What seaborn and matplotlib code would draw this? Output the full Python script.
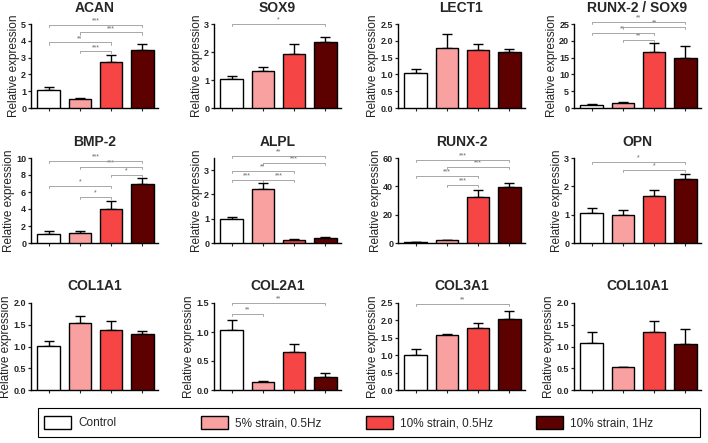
import numpy as np
import pandas as pd
import seaborn as sns
import matplotlib.pyplot as plt
from matplotlib.patches import Patch, Rectangle
from matplotlib.ticker import MultipleLocator

# ---- data ----
groups = ['Control', '5% strain, 0.5Hz', '10% strain, 0.5Hz', '10% strain, 1Hz']
colors = ['#FFFFFF', '#F9A0A0', '#F54545', '#5C0000']

genes = ['ACAN', 'SOX9', 'LECT1', 'RUNX-2 / SOX9',
         'BMP-2', 'ALPL', 'RUNX-2', 'OPN',
         'COL1A1', 'COL2A1', 'COL3A1', 'COL10A1']

means = [[1.05, 0.52, 2.75, 3.48],
         [1.03, 1.33, 1.93, 2.37],
         [1.03, 1.80, 1.73, 1.68],
         [1.00, 1.40, 16.7, 14.8],
         [1.10, 1.20, 4.00, 7.00],
         [1.00, 2.23, 0.14, 0.20],
         [0.80, 1.80, 32.5, 39.5],
         [1.07, 1.00, 1.65, 2.25],
         [1.01, 1.53, 1.39, 1.28],
         [1.03, 0.13, 0.65, 0.23],
         [1.02, 1.57, 1.77, 2.05],
         [1.08, 0.52, 1.33, 1.06]]

sems = [[0.18, 0.10, 0.42, 0.32],
        [0.13, 0.14, 0.37, 0.15],
        [0.12, 0.40, 0.16, 0.09],
        [0.10, 0.30, 2.50, 3.60],
        [0.30, 0.25, 1.00, 0.70],
        [0.06, 0.25, 0.02, 0.03],
        [0.20, 0.30, 5.00, 3.20],
        [0.17, 0.18, 0.23, 0.18],
        [0.11, 0.17, 0.19, 0.07],
        [0.17, 0.02, 0.14, 0.07],
        [0.17, 0.05, 0.16, 0.22],
        [0.26, 0.02, 0.25, 0.34]]

ymax = [5, 3, 2.5, 25, 10, 3.5, 60, 3, 2, 1.5, 2.5, 2]
ystep = [1, 1, 0.5, 5, 2, 1, 20, 1, 0.5, 0.5, 0.5, 0.5]

# significance brackets: (group a, group b, height, label)
brackets = [
    [(0, 3, 4.95, '***'), (1, 3, 4.5, '***'), (0, 2, 3.9, '**'), (1, 2, 3.37, '***')],
    [(0, 3, 3.0, '*')],
    [],
    [(0, 3, 25.7, '**'), (1, 3, 24.2, '**'), (0, 2, 22.3, '**'), (1, 2, 20.3, '**')],
    [(0, 3, 9.7, '***'), (1, 3, 9.0, '***'), (2, 3, 8.0, '*'), (0, 2, 6.7, '*'), (1, 2, 5.4, '*')],
    [(0, 3, 3.58, '**'), (1, 3, 3.3, '***'), (0, 2, 2.98, '**'), (0, 1, 2.6, '***'), (1, 2, 2.6, '***')],
    [(0, 3, 58.8, '***'), (1, 3, 53.6, '***'), (0, 2, 47.6, '***'), (1, 2, 41.2, '***')],
    [(0, 3, 2.86, '*'), (1, 3, 2.58, '*')],
    [],
    [(0, 3, 1.5, '**'), (0, 1, 1.31, '**')],
    [(0, 3, 2.47, '**')],
    [],
]

sns.set_style('ticks')
plt.rcParams['font.family'] = ['Liberation Sans', 'DejaVu Sans']

W, H = 708, 443
fig = plt.figure(figsize=(W / 100, H / 100), dpi=100)

col_left = [31, 214, 398, 574]
row_top = [24, 158, 303]
row_h = [84, 85, 87]
ax_w = 127

for i, gene in enumerate(genes):
    r, c = divmod(i, 4)
    ax = fig.add_axes([col_left[c] / W, 1 - (row_top[r] + row_h[r]) / H,
                       ax_w / W, row_h[r] / H])
    df = pd.DataFrame({'group': groups, 'value': means[i]})
    sns.barplot(data=df, x='group', y='value', hue='group', palette=colors,
                saturation=1, edgecolor='black', linewidth=1.0, width=0.72,
                legend=False, errorbar=None, ax=ax, zorder=3)
    xs = np.arange(len(groups))
    ax.errorbar(xs, means[i], yerr=[np.zeros(4), sems[i]], fmt='none',
                ecolor='black', elinewidth=1.0, capsize=3.5, capthick=1.0, zorder=2)

    ax.set_xlim(-0.56, 3.5)
    ax.set_ylim(0, ymax[i])
    ax.yaxis.set_major_locator(MultipleLocator(ystep[i]))
    if gene == 'ALPL':
        ax.set_yticks([0, 1, 2, 3])
    ax.set_xticks(xs)
    ax.set_xticklabels([])
    ax.set_xlabel('')
    ax.set_ylabel('Relative expression', fontsize=8.5, color='#222222', labelpad=1)
    ax.tick_params(axis='y', labelsize=6.5, length=2.5, width=0.9, pad=1)
    ax.tick_params(axis='x', length=2, width=0.8)
    for lab in ax.get_yticklabels():
        lab.set_fontweight('bold')
    for s in ['left', 'bottom']:
        ax.spines[s].set_linewidth(1.0)
        ax.spines[s].set_color('black')
    sns.despine(ax=ax)
    ax.set_title(gene, fontsize=10, fontweight='bold', pad=9)

    # significance brackets
    drop = ymax[i] * 0.025
    for a, b, h, lab in brackets[i]:
        ax.plot([a, a, b, b], [h - drop, h, h, h - drop], color='#999999',
                lw=0.6, clip_on=False, zorder=4)
        ax.text((a + b) / 2, h + ymax[i] * 0.005, lab, ha='center', va='bottom',
                fontsize=5, color='#666666', clip_on=False)

# legend: frame plus one entry per fixed-width column
fig.patches.append(Rectangle((38 / W, 6 / H), 662 / W, 29 / H, transform=fig.transFigure,
                             facecolor='none', edgecolor='black', linewidth=0.8))
col_x = [44, 201, 366, 536]
for g, col, x in zip(groups, colors, col_x):
    fig.legend([Patch(facecolor=col, edgecolor='black', linewidth=1.0)], [g],
               loc='center left', bbox_to_anchor=(x / W, 20.5 / H), frameon=False,
               fontsize=8.5, handlelength=2.3, handleheight=1.3, handletextpad=0.6,
               borderaxespad=0, borderpad=0)

plt.savefig('out.png', dpi=100)
plt.close()
